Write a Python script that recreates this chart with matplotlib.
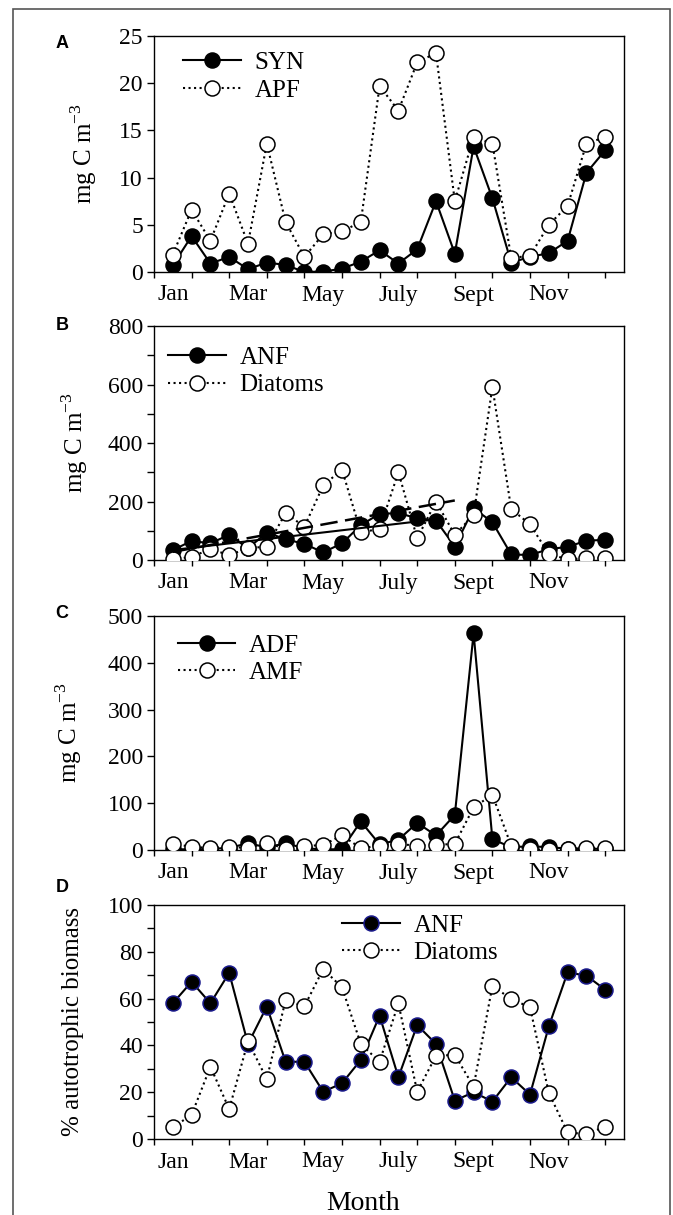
import numpy as np
import matplotlib.pyplot as plt
from matplotlib.ticker import MultipleLocator, FixedLocator

# Campionamenti quindicinali: 24 punti, due per mese
x = np.arange(1, 25)
month_pos = [1, 5, 9, 13, 17, 21]
month_labels = ['Jan', 'Mar', 'May', 'July', 'Sept', 'Nov']

# A: picoplancton autotrofo
syn = [0.7, 3.8, 0.9, 1.6, 0.3, 1.0, 0.75, 0.0, 0.05, 0.35, 1.1, 2.3,
       0.9, 2.4, 7.5, 1.95, 13.3, 7.8, 1.0, 1.6, 2.0, 3.3, 10.5, 12.9]
apf = [1.85, 6.6, 3.3, 8.3, 3.0, 13.6, 5.3, 1.6, 4.0, 4.3, 5.3, 19.7,
       17.1, 22.2, 23.2, 7.5, 14.3, 13.6, 1.5, 1.7, 5.0, 7.0, 13.6, 14.3]

# B: nanoflagellati autotrofi e diatomee
anf_b = [34, 65, 57, 86, 40, 94, 71, 55, 26, 57, 119, 158,
         160, 143, 135, 46, 177, 129, 19, 17, 37, 45, 66, 69]
diat_b = [2, 11, 37, 17, 40, 46, 160, 114, 255, 309, 95, 106,
          300, 74, 200, 86, 154, 592, 174, 122, 21, 2, 6, 6]
n_fit_anf = 15    # regressione ANF gen-lug
n_fit_diat = 16   # regressione diatomee gen-ago

# C: dinoflagellati e microflagellati autotrofi
adf = [2, 1, 2, 5, 14, 6, 14, 4, 1, 2, 61, 12,
       22, 58, 31, 75, 463, 23, 6, 8, 6, 3, 2, 3]
amf = [13, 7, 4, 7, 4, 16, 2, 8, 11, 31, 4, 9,
       13, 9, 11, 13, 91, 118, 9, 2, 0, 2, 4, 4]

# D: percentuale della biomassa autotrofa
anf_d = [58, 67.2, 58, 71, 40.6, 56.6, 33, 33, 20.2, 23.8, 33.8, 52.7,
         26.4, 48.7, 40.6, 16.4, 20, 16, 26.4, 19, 48.1, 71.2, 69.8, 63.8]
diat_d = [5, 10.3, 30.9, 12.8, 41.7, 25.6, 59.4, 56.7, 72.6, 64.8, 40.6, 33,
          58, 20.2, 35.6, 35.9, 22.4, 65.5, 59.8, 56.3, 19.7, 2.8, 2.1, 5.3]

plt.rcParams['font.family'] = ['Liberation Serif', 'DejaVu Serif']
plt.rcParams['mathtext.fontset'] = 'custom'
plt.rcParams['mathtext.rm'] = 'Liberation Serif'

W, H = 673, 1215
fig = plt.figure(figsize=(W / 100, H / 100), dpi=100)

# cornice esterna
fig.patches.append(plt.Rectangle((13 / W, -0.01), (670 - 13) / W, 1 - 9 / H + 0.01,
                                 transform=fig.transFigure, fill=False,
                                 edgecolor='#555555', linewidth=1.2))

left, right = 154, 624
panels = [(36, 272), (326, 560), (616, 850), (905, 1139)]
axes = []
for top, bot in panels:
    ax = fig.add_axes([left / W, 1 - bot / H, (right - left) / W, (bot - top) / H])
    axes.append(ax)

ms = 10.8
mew = 1.1
solid = dict(color='black', linestyle='-', linewidth=1.5, marker='o', markersize=ms,
             markerfacecolor='black', markeredgecolor='black', markeredgewidth=mew)
dotted = dict(color='black', linestyle=':', linewidth=1.5, marker='o', markersize=ms,
              markerfacecolor='white', markeredgecolor='black', markeredgewidth=mew)


def style_axis(ax, ymax, ymajor, ylabel_every):
    ax.set_xlim(0, 25)
    ax.set_ylim(0, ymax)
    ax.xaxis.set_major_locator(FixedLocator(month_pos))
    ax.set_xticklabels(month_labels)
    ax.xaxis.set_minor_locator(FixedLocator(np.arange(0, 25, 2)))
    ax.tick_params(axis='x', which='major', length=0, pad=9, labelsize=17)
    ax.tick_params(axis='x', which='minor', length=4, width=1, direction='out')
    ax.yaxis.set_major_locator(MultipleLocator(ymajor))
    ax.tick_params(axis='y', which='major', length=5, width=1, direction='out', labelsize=17, pad=3)
    labels = []
    for v in np.arange(0, ymax + ymajor / 2, ymajor):
        labels.append(f'{int(v)}' if int(round(v)) % ylabel_every == 0 else '')
    ax.set_yticks(np.arange(0, ymax + ymajor / 2, ymajor))
    ax.set_yticklabels(labels)
    for s in ax.spines.values():
        s.set_linewidth(1.0)


def add_legend(ax, xa, ya):
    ax.legend(loc='upper left', bbox_to_anchor=(xa, ya), frameon=False, fontsize=18,
              borderpad=0, borderaxespad=0, handlelength=2.3, handletextpad=0.55,
              labelspacing=0.2, numpoints=1)


# A
ax = axes[0]
ax.plot(x, syn, label='SYN', zorder=3, **solid)
ax.plot(x, apf, label='APF', zorder=4, **dotted)
style_axis(ax, 25, 5, 5)
add_legend(ax, 0.062, 0.934)

# B
ax = axes[1]
ax.plot(x, anf_b, label='ANF', zorder=3, **solid)
ax.plot(x, diat_b, label='Diatoms', zorder=4, **dotted)
xa = x[:n_fit_anf]
ka = np.polyfit(xa, anf_b[:n_fit_anf], 1)
ax.plot(xa[[0, -1]], np.polyval(ka, xa[[0, -1]]), color='black', linewidth=1.5, zorder=5)
xd = x[:n_fit_diat]
kd = np.polyfit(xd, diat_b[:n_fit_diat], 1)
ax.plot(xd[[0, -1]], np.polyval(kd, xd[[0, -1]]), color='black', linewidth=1.8,
        linestyle=(0, (7, 3)), zorder=5)
style_axis(ax, 800, 100, 200)
add_legend(ax, 0.03, 0.913)

# C
ax = axes[2]
ax.plot(x, adf, label='ADF', zorder=3, **solid)
ax.plot(x, amf, label='AMF', zorder=4, **dotted)
style_axis(ax, 500, 100, 100)
add_legend(ax, 0.051, 0.923)

# D
ax = axes[3]
solid_d = dict(solid, markeredgecolor='#1a1a8c')
ax.plot(x, anf_d, label='ANF', zorder=3, **solid_d)
ax.plot(x, diat_d, label='Diatoms', zorder=4, **dotted)
style_axis(ax, 100, 10, 20)
add_legend(ax, 0.40, 0.961)

# etichette asse y
ylab_x = [84, 75, 69, 73]
ylabs = ['mg C m$^{-3}$'] * 3 + ['% autotrophic biomass']
for ax, (top, bot), lx, lab in zip(axes, panels, ylab_x, ylabs):
    fig.text(lx / W, 1 - (top + bot) / 2 / H, lab, rotation=90, ha='center', va='center',
             fontsize=18)

# lettere dei pannelli
for lab, ly in zip('ABCD', [43, 325, 613, 888]):
    fig.text(62 / W, 1 - ly / H, lab, ha='center', va='center', fontsize=13,
             fontweight='bold', family=['Liberation Sans', 'DejaVu Sans'])

fig.text(363 / W, 1 - 1203 / H, 'Month', ha='center', va='center', fontsize=20)

fig.savefig('out.png', dpi=100)
